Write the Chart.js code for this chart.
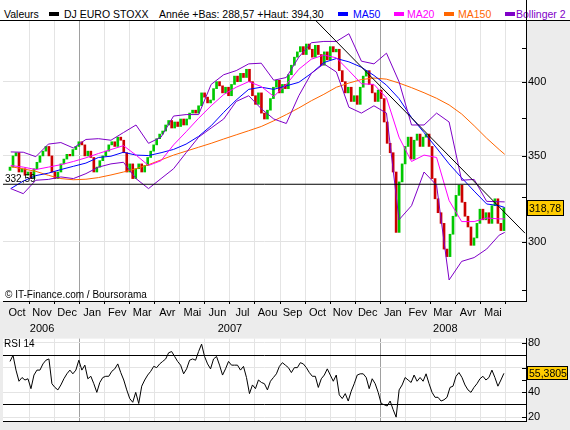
<!DOCTYPE html>
<html>
<head>
<meta charset="utf-8">
<script src="https://cdn.jsdelivr.net/npm/chart.js@4"></script>
<style>
body { margin: 0; width: 570px; height: 430px; overflow: hidden; position: relative; background: #ececec; font-family: "Liberation Sans", Arial, sans-serif; }
#head { position: absolute; left: 0; top: 0; width: 570px; height: 20px; background: #fff; border-bottom: 1px solid #000; font-size: 10.5px; line-height: 12px; color: #000; }
#head span { position: absolute; top: 8px; white-space: nowrap; }
#head i { position: absolute; top: 12px; width: 10px; height: 4px; }
#head b { position: absolute; left: 526px; top: 0; width: 1px; height: 20px; background: #000; }
canvas { position: absolute; left: 0; }
#main { top: 0; }
#rsi { top: 330px; }
.note { position: absolute; font-size: 10px; line-height: 12px; white-space: nowrap; color: #000; }
</style>
</head>
<body>
<canvas id="rsi" width="570" height="100"></canvas>
<canvas id="main" width="570" height="336"></canvas>
<div id="head">
  <span style="left:4px">Valeurs</span>
  <i style="left:49px;background:#000"></i><span style="left:64px">DJ EURO STOXX</span>
  <span style="left:159px">Année +Bas: 288,57 +Haut: 394,30</span>
  <i style="left:338px;background:#0000ff"></i><span style="left:353px;color:#0000ff">MA50</span>
  <i style="left:394px;background:#ff00ff"></i><span style="left:407px;color:#ff00ff">MA20</span>
  <i style="left:444px;background:#ff6600"></i><span style="left:458px;color:#ff6600">MA150</span>
  <i style="left:505px;background:#7f00c8"></i><span style="left:516px;color:#7f00c8">Bollinger 2</span>
  <b></b>
</div>
<div class="note" style="left:5px;top:289px">© IT-Finance.com / Boursorama</div>
<div class="note" style="left:4px;top:338px">RSI 14</div>
<script>
// months counted from 1 Oct 2006
const monthLabels = ['Oct','Nov','Dec','Jan','Fev','Mar','Avr','Mai','Jun','Jul','Aou','Sep','Oct','Nov','Dec','Jan','Fev','Mar','Avr','Mai'];
const yearLabels = ['2006', '2007', '2008'];
const yearCenters = [1.5, 9, 17.6];
const yearStarts = [3, 15];
const xMin = -0.06, xMax = 20.82;

// daily candles sampled every ~2.5 sessions
const firstCandleMonth = 0.22, candleStep = 0.1195;
const firstOpen = 341;
const closes = [
  343,350,352,340,342,338,340,336,342,346,
  350,353,356,350,340,336,340,345,348,351,
  350,354,356,359,357,350,353,349,340,343,
  347,350,353,357,359,356,362,360,352,340,
  345,336,342,345,340,344,349,353,357,361,
  364,366,370,373,368,372,369,374,370,374,
  378,380,378,383,392,389,385,387,395,400,
  397,392,396,390,398,404,400,406,403,409,
  400,390,384,392,378,374,380,388,396,401,
  392,398,395,405,412,418,422,426,420,428,
  424,418,427,420,412,422,416,426,422,424,
  408,400,392,396,386,390,384,396,404,408,
  398,392,386,394,388,372,358,352,340,305,
  334,345,356,362,348,360,364,356,362,364,
  356,336,324,316,310,296,292,304,314,326,
  332,322,314,308,298,302,310,318,312,316,
  310,320,324,310,306,318.78
];
const rsi = [
  65,70,58,49,52,50,51,43,54,58,
  58,63,66,67,47,44,42,46,51,55,
  58,55,58,66,58,62,51,53,47,40,
  48,52,53,53,57,59,63,56,50,42,
  35,32,40,31,45,50,54,57,61,60,
  63,65,67,72,73,69,65,62,55,59,
  66,67,66,73,79,69,63,59,67,69,
  62,54,59,65,62,62,62,58,61,52,
  39,46,43,50,48,47,42,49,52,55,
  61,64,62,60,56,60,60,64,63,60,
  56,53,53,44,51,54,59,54,49,54,
  38,35,39,33,41,47,54,55,55,52,
  43,51,47,40,31,30,29,33,26,20,
  42,46,52,50,48,54,49,52,49,55,
  47,40,36,36,33,34,36,44,45,53,
  56,52,46,42,40,44,47,51,53,50,
  52,58,52,45,50,55.38
];

// moving averages and bands, read every half month
const lineMonths = [
  0.25,0.75,1.25,1.75,2.25,2.75,3.25,3.75,4.25,4.75,
  5.25,5.75,6.25,6.75,7.25,7.75,8.25,8.75,9.25,9.75,
  10.25,10.75,11.25,11.75,12.25,12.75,13.25,13.75,14.25,14.75,
  15.25,15.75,16.25,16.75,17.25,17.75,18.25,18.75,19.25,19.75,19.97
];
const ma20 = [
  344,343,341.5,343,344.5,346.5,348.8,351.5,354,356.5,
  350.5,344,347,357,365.5,374.5,383,390.8,396,400,
  396.5,389.5,398,409,416.5,419.6,417.5,408,398.5,398,
  388.5,362,346.5,350.5,349,323,311,311,313,312.5,312.5
];
const ma50 = [
  330,334.5,337.8,339.3,341.5,343.5,345.5,349,349.8,352.3,
  350.5,350.2,352,354.1,357.5,362.5,369.5,378.5,387,394.5,
  396,394.5,397,399.5,406,414,417,414.5,410.5,404.5,
  397.5,388,375,365,355,345,336.5,328.5,321,320,319
];
const ma150 = [
  343.3,341.9,340.4,338,336,335.3,335.6,336.6,338.2,340,
  342,344.5,347.5,350.5,353,355.5,358,360.8,363.5,366.2,
  369,372.8,377,381.5,386.5,391,396,399,401.5,402.6,
  401.8,399,395.7,392.1,388.2,383.6,377.4,369.5,361.3,354,351
];
const bollUp = [
  352.5,352.3,349.5,357.5,358.5,355,360.5,361,360,365,
  370,358,362,376,377,377,398,405,408,413,
  413.5,401,403,418,429,430,430,436,415,413,
  421,400,370,370,378,372,335,335.5,322.5,322.3,322.2
];
const bollLow = [
  330,327,335,335.5,337,336,339,343,345,346,
  336,330,336,342,352,362,368,374,386,390,
  381,374,371,390,406,413,407,382,378,383,
  378,312,320,340,332,280,289.5,291.5,296,303.5,305
];

const support = 332.59;
const trendMonths = [12.4, 20.78];
const trendValues = [447, 304.6];
const lastClose = 318.78, lastRsi = 55.3805;

Chart.defaults.font.family = "'Liberation Sans', Arial, sans-serif";
Chart.defaults.font.size = 11;
Chart.defaults.color = '#000';

const candleMonth = i => firstCandleMonth + i * candleStep;
const opens = closes.map((c, i) => i ? closes[i - 1] : firstOpen);
const candles = closes.map((c, i) => ({ x: candleMonth(i), y: [opens[i], c] }));
const candleColors = closes.map((c, i) => c >= opens[i] ? '#00c800' : '#cc0000');

function series(values, months) {
  return values.map((v, i) => ({ x: months[i], y: v }));
}
function line(label, values, color, order) {
  return { type: 'line', label, data: series(values, lineMonths), borderColor: color, borderWidth: 1, pointRadius: 0, tension: 0, order };
}

const whiteArea = {
  id: 'whiteArea',
  beforeDraw(chart, args, opts) {
    const a = chart.chartArea, c = chart.ctx;
    c.save();
    c.fillStyle = '#fff';
    c.fillRect(opts.from, a.top, a.right - opts.from, a.bottom - a.top);
    c.restore();
  }
};
const innerTicks = {
  id: 'innerTicks',
  afterDraw(chart, args, opts) {
    const s = chart.scales.y, c = chart.ctx;
    c.save();
    c.strokeStyle = '#000';
    c.lineWidth = 1;
    c.beginPath();
    opts.values.forEach(v => {
      const p = Math.round(s.getPixelForValue(v)) + 0.5;
      c.moveTo(s.left - 4, p);
      c.lineTo(s.left, p);
    });
    c.stroke();
    c.restore();
  }
};
const valueBox = {
  id: 'valueBox',
  afterDraw(chart, args, opts) {
    const s = chart.scales.y, c = chart.ctx;
    const y = Math.round(s.getPixelForValue(opts.value));
    const x = s.left + 1;
    c.save();
    c.fillStyle = '#ffcc00';
    c.fillRect(x, y - opts.h / 2, opts.w, opts.h);
    c.strokeStyle = '#000';
    c.lineWidth = 1;
    c.strokeRect(x + 0.5, y - opts.h / 2 + 0.5, opts.w - 1, opts.h - 1);
    c.fillStyle = '#000';
    c.font = "10.5px 'Liberation Sans', Arial, sans-serif";
    c.textBaseline = 'middle';
    c.fillText(opts.text, x + 2, y + 1);
    c.restore();
  }
};
const supportLabel = {
  id: 'supportLabel',
  afterDatasetsDraw(chart) {
    const c = chart.ctx;
    const y = chart.scales.y.getPixelForValue(support);
    c.save();
    c.fillStyle = '#000';
    c.font = "10px 'Liberation Sans', Arial, sans-serif";
    c.fillText(String(support).replace('.', ','), chart.chartArea.left + 2, y - 2);
    c.restore();
  }
};

const monthGrid = {
  color: ctx => yearStarts.includes(ctx.tick && ctx.tick.value) ? '#a0a0a0' : '#e4e4e4',
  offset: false
};
const monthEdges = scale => { scale.ticks = monthLabels.map((m, i) => ({ value: i + 1 })); };

new Chart(document.getElementById('main'), {
  type: 'line',
  data: {
    datasets: [
      { type: 'bar', label: 'DJ EURO STOXX', data: candles, backgroundColor: candleColors, barThickness: 2, minBarLength: 1, order: 10 },
      line('MA150', ma150, '#ff6600', 5),
      line('MA50', ma50, '#0000ff', 4),
      line('MA20', ma20, '#ff00ff', 3),
      line('Bollinger haut', bollUp, '#7f00c8', 2),
      line('Bollinger bas', bollLow, '#7f00c8', 2),
      { type: 'line', label: 'Support', data: series([support, support], [xMin, xMax]), borderColor: '#000', borderWidth: 1, pointRadius: 0, order: 1 },
      { type: 'line', label: 'Tendance', data: series(trendValues, trendMonths), borderColor: '#000', borderWidth: 1, pointRadius: 0, order: 1 }
    ]
  },
  options: {
    responsive: false,
    animation: false,
    events: [],
    layout: { padding: { top: 21, left: 3, right: 0, bottom: 0 } },
    plugins: {
      legend: { display: false },
      tooltip: { enabled: false },
      whiteArea: { from: 0 },
      innerTicks: { values: [275, 300, 325, 350, 375, 400, 425] },
      valueBox: { value: lastClose, text: '318,78', w: 37, h: 16 }
    },
    scales: {
      x: {
        type: 'linear', min: xMin, max: xMax, offset: false, position: 'bottom', weight: 0,
        afterBuildTicks: monthEdges,
        ticks: { display: false },
        grid: Object.assign({ drawTicks: true, tickLength: 3, tickColor: '#000' }, monthGrid),
        border: { color: '#000' },
        afterFit: s => { s.height = 3; }
      },
      xm: {
        type: 'linear', min: xMin, max: xMax, offset: false, position: 'bottom', weight: 1,
        afterBuildTicks: s => { s.ticks = monthLabels.map((m, i) => ({ value: i + 0.5 })); },
        ticks: { callback: (v, i) => monthLabels[i], autoSkip: false, maxRotation: 0, padding: 2.4 },
        grid: { display: false, drawTicks: false, offset: false },
        border: { display: false },
        afterFit: s => { s.height = 18; }
      },
      xy: {
        type: 'linear', min: xMin, max: xMax, offset: false, position: 'bottom', weight: 2,
        afterBuildTicks: s => { s.ticks = yearCenters.map(v => ({ value: v })); },
        ticks: { callback: (v, i) => yearLabels[i], autoSkip: false, maxRotation: 0, padding: 0 },
        grid: { display: false, drawTicks: false, offset: false },
        border: { display: false },
        afterFit: s => { s.height = 14; }
      },
      y: {
        type: 'logarithmic', position: 'right', min: 269.6, max: 446.1,
        afterBuildTicks: s => { s.ticks = [275, 300, 325, 350, 375, 400, 425].map(v => ({ value: v })); },
        ticks: { callback: v => [300, 350, 400].includes(v) ? String(v) : '', padding: 2, autoSkip: false },
        grid: { color: c => [300, 350, 400].includes(c.tick && c.tick.value) ? '#e2e2e2' : 'rgba(0,0,0,0)', drawTicks: false },
        border: { color: '#000' },
        afterFit: s => { s.width = 44; }
      }
    }
  },
  plugins: [whiteArea, innerTicks, valueBox, supportLabel]
});

new Chart(document.getElementById('rsi'), {
  type: 'line',
  data: {
    datasets: [
      { label: 'RSI 14', data: rsi.map((v, i) => ({ x: candleMonth(i), y: v })), borderColor: '#000', borderWidth: 1, pointRadius: 0, tension: 0 }
    ]
  },
  options: {
    responsive: false,
    animation: false,
    events: [],
    layout: { padding: { top: 4, left: 3, right: 0, bottom: 5 } },
    plugins: {
      legend: { display: false },
      tooltip: { enabled: false },
      whiteArea: { from: 3 },
      innerTicks: { values: [20, 40, 50, 60, 80] },
      valueBox: { value: lastRsi, text: '55,3805', w: 41, h: 14 }
    },
    scales: {
      x: {
        type: 'linear', min: xMin, max: xMax, offset: false,
        afterBuildTicks: monthEdges,
        ticks: { display: false },
        grid: Object.assign({ drawTicks: false }, monthGrid),
        border: { color: '#000' }
      },
      y: {
        type: 'linear', position: 'right', min: 16.54, max: 83.46,
        afterBuildTicks: s => { s.ticks = [20, 30, 40, 50, 60, 70, 80].map(v => ({ value: v })); },
        ticks: { callback: v => [20, 40, 80].includes(v) ? String(v) : '', padding: 2, autoSkip: false },
        grid: {
          color: c => {
            const v = c.tick && c.tick.value;
            if (v === 30 || v === 70) return '#000';
            return v === 50 ? 'rgba(0,0,0,0)' : '#e4e4e4';
          },
          drawTicks: false
        },
        border: { color: '#000' },
        afterFit: s => { s.width = 44; }
      }
    }
  },
  plugins: [whiteArea, innerTicks, valueBox]
});
</script>
</body>
</html>
